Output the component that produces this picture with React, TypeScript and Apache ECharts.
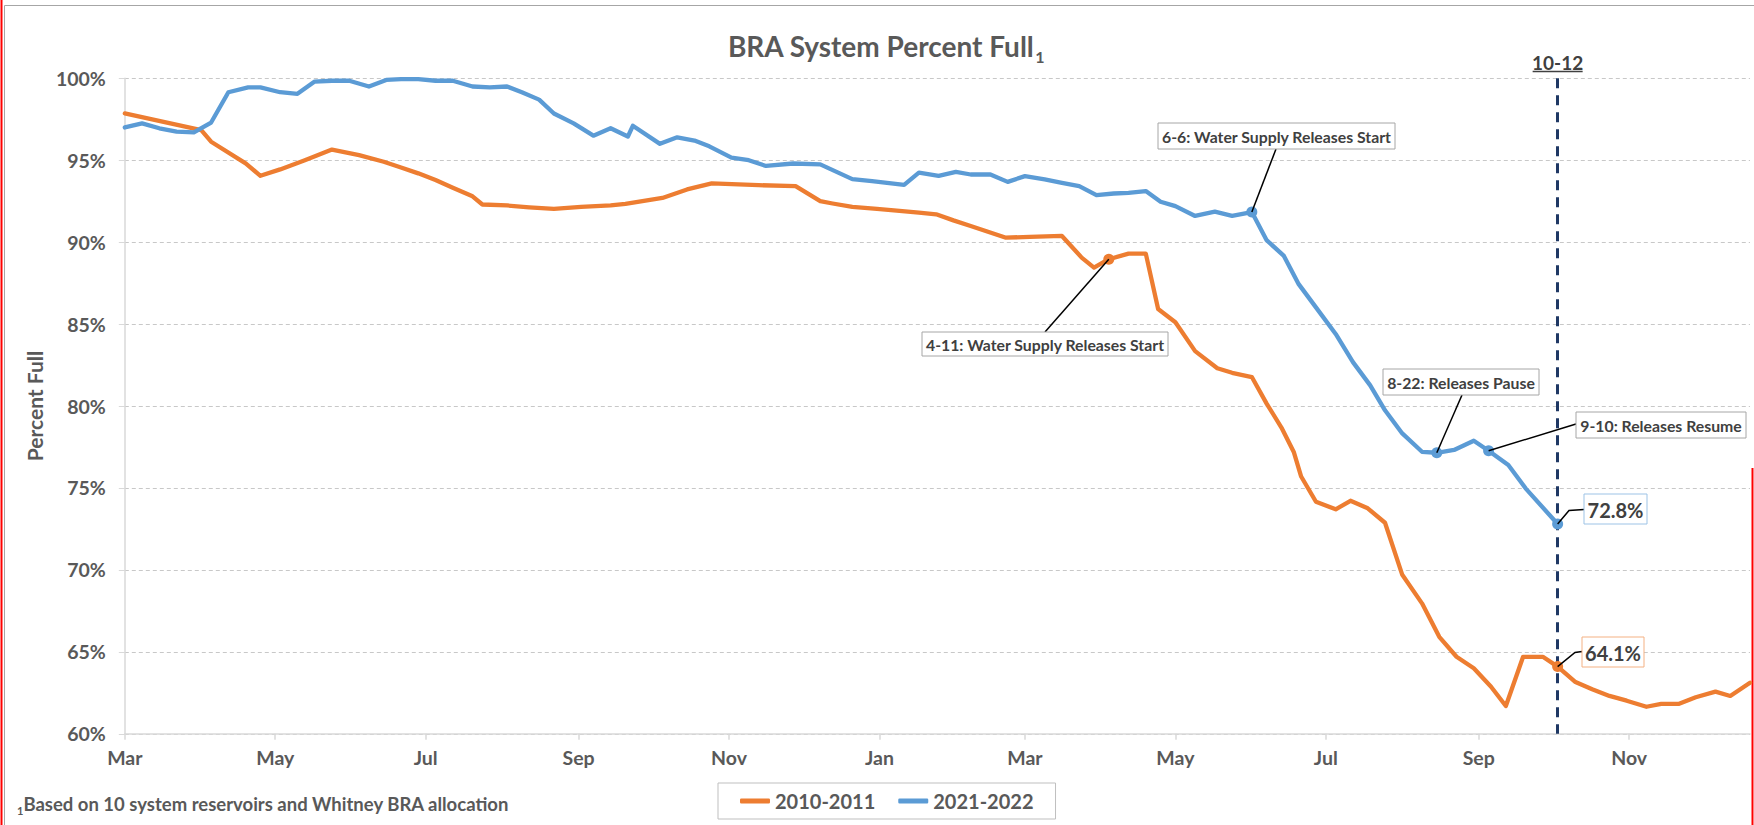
import React, { useEffect, useRef } from 'react';
import * as echarts from 'echarts';

// ---- Data ----
// x values are day offsets from March 1 of the first year
const tickDays = [0, 61, 122, 184, 245, 306, 365, 426, 487, 549, 610];
const tickLabels = ['Mar', 'May', 'Jul', 'Sep', 'Nov', 'Jan', 'Mar', 'May', 'Jul', 'Sep', 'Nov'];

const seriesNames = ['2010-2011', '2021-2022'];

const orangeDays = [0, 31, 35, 49, 55, 63, 73, 84, 95, 105, 112, 119, 126, 133, 141, 145, 155, 164, 174, 185,
  197, 203, 218, 228, 238, 257, 272, 282, 287, 295, 305, 313, 322, 329, 336, 343, 350, 357, 367, 380,
  388, 393, 399, 407, 414, 419, 426, 434, 443, 449, 457, 463, 469, 474, 477, 483, 491, 497, 504, 511,
  518, 526, 533, 540, 547, 554, 560, 567, 575, 581, 588, 595, 602, 609, 617, 623, 630, 637, 645, 651, 659];
const orangeValues = [97.86, 96.84, 96.13, 94.81, 94.05, 94.44, 95.0, 95.65, 95.31, 94.91, 94.56, 94.2, 93.79, 93.32, 92.8, 92.3, 92.24, 92.13, 92.03, 92.15,
  92.24, 92.34, 92.7, 93.22, 93.59, 93.48, 93.42, 92.5, 92.36, 92.15, 92.03, 91.93, 91.8, 91.7, 91.33, 90.99, 90.64, 90.28, 90.32, 90.38,
  89.06, 88.45, 88.96, 89.3, 89.3, 85.92, 85.11, 83.35, 82.31, 82.03, 81.77, 80.15, 78.69, 77.2, 75.7, 74.16, 73.7, 74.22, 73.76, 72.88,
  69.7, 67.96, 65.92, 64.7, 64.0, 62.87, 61.7, 64.7, 64.7, 64.1, 63.18, 62.72, 62.31, 62.02, 61.65, 61.82, 61.82, 62.23, 62.57, 62.31, 63.12];

const blueDays = [0, 7, 14, 21, 28, 35, 42, 50, 55, 63, 70, 77, 84, 91, 99, 106, 112, 119, 126, 133,
  141, 148, 155, 161, 168, 174, 182, 190, 197, 204, 206, 217, 224, 231, 237, 246, 253, 260, 271, 282,
  295, 303, 316, 322, 330, 337, 343, 351, 358, 365, 373, 380, 387, 394, 401, 407, 414, 420, 426, 434,
  442, 449, 457, 463, 470, 476, 483, 491, 498, 505, 511, 518, 526, 532, 539, 547, 553, 561, 568, 581];
const blueValues = [97.0, 97.25, 96.95, 96.75, 96.7, 97.3, 99.15, 99.45, 99.45, 99.15, 99.05, 99.8, 99.85, 99.85, 99.5, 99.9, 99.95, 99.95, 99.85, 99.85,
  99.5, 99.45, 99.5, 99.15, 98.7, 97.85, 97.25, 96.5, 96.95, 96.45, 97.1, 96.0, 96.4, 96.2, 95.85, 95.16, 95.0, 94.65, 94.8, 94.75,
  93.85, 93.73, 93.5, 94.24, 94.05, 94.29, 94.13, 94.13, 93.68, 94.03, 93.83, 93.62, 93.42, 92.87, 92.97, 93.01, 93.12, 92.47, 92.2, 91.6,
  91.86, 91.6, 91.84, 90.12, 89.16, 87.44, 86.02, 84.4, 82.68, 81.26, 79.74, 78.33, 77.21, 77.15, 77.32, 77.88, 77.27, 76.4, 74.98, 72.8];

const currentDay = 581;
const currentLabel = '10-12';
const orangeEventDays = [399];
const orangeEventTexts = ['4-11: Water Supply Releases Start'];
const blueEventDays = [457, 532, 553];
const blueEventTexts = ['6-6: Water Supply Releases Start', '8-22: Releases Pause', '9-10: Releases Resume'];

// ---- Layout (pixels) ----
const eventBoxes: Record<string, { x: number; y: number; w: number; h: number; ax: number; ay: number }> = {
  '6-6: Water Supply Releases Start': { x: 1158, y: 123, w: 237, h: 26, ax: 1276, ay: 149 },
  '4-11: Water Supply Releases Start': { x: 922, y: 332, w: 246, h: 24, ax: 1045, ay: 332 },
  '8-22: Releases Pause': { x: 1383, y: 369, w: 156, h: 26, ax: 1462, ay: 395 },
  '9-10: Releases Resume': { x: 1576, y: 412, w: 170, h: 26, ax: 1576, ay: 424 },
};

const ORANGE = '#ED7D31';
const BLUE = '#5B9BD5';
const FONT = 'Lato, "Open Sans", sans-serif';
const TXT = '#595959';
const DARK = '#404040';

export default function App() {
  const ref = useRef<HTMLDivElement>(null);

  useEffect(() => {
    const el = ref.current!;
    const chart = echarts.init(el, null, { renderer: 'svg' });
    const orangeData = orangeDays.map((d, i) => [d, orangeValues[i]]);
    const blueData = blueDays.map((d, i) => [d, blueValues[i]]);
    const oVal = (d: number) => orangeValues[orangeDays.indexOf(d)];
    const bVal = (d: number) => blueValues[blueDays.indexOf(d)];

    chart.setOption({
      animation: false,
      backgroundColor: '#ffffff',
      textStyle: { fontFamily: FONT },
      grid: { left: 124.8, right: 4, top: 78.3, bottom: 91.2 },
      legend: {
        data: seriesNames,
        left: 718,
        top: 783,
        padding: [8, 22, 8, 22],
        itemGap: 23,
        itemWidth: 30,
        itemHeight: 5,
        icon: 'roundRect',
        borderColor: '#bfbfbf',
        borderWidth: 1,
        textStyle: { fontSize: 20, fontWeight: 'bold', color: TXT, fontFamily: FONT },
      },
      xAxis: {
        type: 'value',
        min: 0,
        max: 659,
        axisLine: { show: true, onZero: false, lineStyle: { color: '#d9d9d9', width: 1.5 } },
        axisTick: { show: true, customValues: tickDays, length: 6, lineStyle: { color: '#d9d9d9', width: 1.5 } },
        axisLabel: {
          customValues: tickDays,
          formatter: (v: number) => {
            const i = tickDays.indexOf(Math.round(v));
            return i >= 0 ? tickLabels[i] : '';
          },
          margin: 14,
          fontSize: 19.5,
          fontWeight: 'bold',
          color: TXT,
          fontFamily: FONT,
        },
        splitLine: { show: false },
      },
      yAxis: {
        type: 'value',
        min: 60,
        max: 100,
        interval: 5,
        name: 'Percent Full',
        nameLocation: 'middle',
        nameGap: 74,
        nameTextStyle: { fontSize: 21, fontWeight: 'bold', color: TXT, fontFamily: FONT },
        axisLine: { show: true, lineStyle: { color: '#d9d9d9', width: 1.5 } },
        axisTick: { show: true, length: 6, lineStyle: { color: '#d9d9d9', width: 1 } },
        axisLabel: { formatter: '{value}%', margin: 19, fontSize: 19.5, fontWeight: 'bold', color: TXT, fontFamily: FONT },
        splitLine: { show: true, lineStyle: { color: '#c8c8c8', type: [4, 3], width: 1 } },
      },
      series: [
        {
          name: seriesNames[0],
          type: 'line',
          data: orangeData,
          symbol: 'none',
          lineStyle: { color: ORANGE, width: 4.3, join: 'round', cap: 'round' },
          itemStyle: { color: ORANGE },
          markPoint: {
            symbol: 'circle',
            symbolSize: 11,
            label: { show: false },
            itemStyle: { color: ORANGE },
            data: [...orangeEventDays, currentDay].map((d) => ({ coord: [d, oVal(d)] })),
          },
        },
        {
          name: seriesNames[1],
          type: 'line',
          data: blueData,
          symbol: 'none',
          lineStyle: { color: BLUE, width: 4.3, join: 'round', cap: 'round' },
          itemStyle: { color: BLUE },
          markPoint: {
            symbol: 'circle',
            symbolSize: 11,
            label: { show: false },
            itemStyle: { color: BLUE },
            data: [...blueEventDays, currentDay].map((d) => ({ coord: [d, bVal(d)] })),
          },
          markLine: {
            silent: true,
            symbol: 'none',
            label: { show: false },
            lineStyle: { color: '#1F3864', width: 3, type: [10, 7] },
            data: [[{ coord: [currentDay, 100] }, { coord: [currentDay, 60] }]],
          },
        },
      ],
    });

    const px = (d: number, v: number) => chart.convertToPixel({ gridIndex: 0 }, [d, v]) as number[];
    const graphics: any[] = [];

    // frame
    graphics.push({ type: 'rect', silent: true, z: -10, shape: { x: 4.5, y: 5.5, width: 1800, height: 900 }, style: { fill: 'none', stroke: '#a6a6a6', lineWidth: 1 } });
    graphics.push({ type: 'line', silent: true, shape: { x1: 1.5, y1: 0, x2: 1.5, y2: 825 }, style: { stroke: '#ff0000', lineWidth: 2 } });
    graphics.push({ type: 'line', silent: true, shape: { x1: 1752.5, y1: 468, x2: 1752.5, y2: 825 }, style: { stroke: '#ff0000', lineWidth: 2 } });

    // title
    graphics.push({
      type: 'text', x: 886, y: 44,
      style: {
        text: '{a|BRA System Percent Full}{b|1}',
        align: 'center', verticalAlign: 'middle',
        rich: {
          a: { fontSize: 28, fontWeight: 'bold', fill: TXT, fontFamily: FONT, lineHeight: 32, verticalAlign: 'bottom' },
          b: { fontSize: 16, fontWeight: 'bold', fill: TXT, fontFamily: FONT, lineHeight: 32, verticalAlign: 'bottom', padding: [0, 0, -4, 1] },
        },
      },
    });

    // footnote
    graphics.push({
      type: 'text', x: 17, y: 802,
      style: {
        text: '{s|1}{t|Based on 10 system reservoirs and Whitney BRA allocation}',
        align: 'left', verticalAlign: 'middle',
        rich: {
          s: { fontSize: 11, fontWeight: 'bold', fill: TXT, fontFamily: FONT, lineHeight: 22, verticalAlign: 'bottom', padding: [0, 0, -3, 0] },
          t: { fontSize: 18.5, fontWeight: 'bold', fill: TXT, fontFamily: FONT, lineHeight: 22, verticalAlign: 'bottom' },
        },
      },
    });

    // current date label
    const cx = px(currentDay, 100)[0];
    graphics.push({ type: 'text', x: cx, y: 62, style: { text: currentLabel, align: 'center', verticalAlign: 'middle', fontSize: 19, fontWeight: 'bold', fill: DARK, fontFamily: FONT } });
    graphics.push({ type: 'line', shape: { x1: cx - 25, y1: 71.5, x2: cx + 25, y2: 71.5 }, style: { stroke: DARK, lineWidth: 1.5 } });

    // event annotations
    const addEvent = (text: string, p: number[]) => {
      const b = eventBoxes[text];
      graphics.push({ type: 'line', z: 50, shape: { x1: b.ax, y1: b.ay, x2: p[0], y2: p[1] }, style: { stroke: '#000', lineWidth: 1.5 } });
      graphics.push({ type: 'rect', z: 51, shape: { x: b.x, y: b.y, width: b.w, height: b.h }, style: { fill: '#fff', stroke: '#a6a6a6', lineWidth: 1 } });
      graphics.push({ type: 'text', z: 52, x: b.x + b.w / 2, y: b.y + b.h / 2 + 0.5, style: { text, align: 'center', verticalAlign: 'middle', fontSize: 15.8, fontWeight: 'bold', fill: DARK, fontFamily: FONT } });
    };
    orangeEventDays.forEach((d, i) => addEvent(orangeEventTexts[i], px(d, oVal(d))));
    blueEventDays.forEach((d, i) => addEvent(blueEventTexts[i], px(d, bVal(d))));

    // current value labels
    const addValue = (v: number, border: string, box: { x: number; y: number; w: number; h: number }, elbow: number[]) => {
      const p = px(currentDay, v);
      graphics.push({ type: 'polyline', z: 50, shape: { points: [[p[0], p[1]], elbow, [box.x, elbow[1] - 1]] }, style: { stroke: '#000', lineWidth: 1.5, fill: 'none' } });
      graphics.push({ type: 'rect', z: 51, shape: { x: box.x, y: box.y, width: box.w, height: box.h }, style: { fill: '#fff', stroke: border, lineWidth: 1 } });
      graphics.push({ type: 'text', z: 52, x: box.x + box.w / 2, y: box.y + box.h / 2 + 0.5, style: { text: v.toFixed(1) + '%', align: 'center', verticalAlign: 'middle', fontSize: 20, fontWeight: 'bold', fill: DARK, fontFamily: FONT } });
    };
    addValue(bVal(currentDay), '#9DC3E6', { x: 1584, y: 494, w: 63, h: 30 }, [1569, 510.5]);
    addValue(oVal(currentDay), '#F4B183', { x: 1582, y: 637, w: 62, h: 30 }, [1575, 652.5]);

    chart.setOption({ graphic: graphics });

    return () => chart.dispose();
  }, []);

  return <div ref={ref} style={{ position: 'absolute', left: 0, top: 0, width: 1754, height: 825, background: '#fff' }} />;
}
